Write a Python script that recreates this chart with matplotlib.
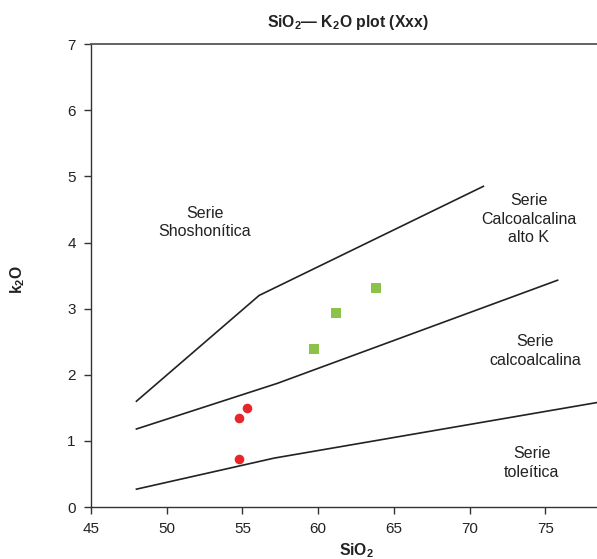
import numpy as np
from matplotlib import pyplot as plt

plt.rcParams["font.family"] = ["Liberation Sans", "DejaVu Sans"]
plt.rcParams["mathtext.fontset"] = "custom"
plt.rcParams["mathtext.rm"] = "Liberation Sans"
plt.rcParams["mathtext.bf"] = "Liberation Sans:bold"

# boundary lines (SiO2, K2O)
shosho_x = [48.0, 56.1, 70.9]
shosho_y = [1.60, 3.20, 4.85]
highk_x = [48.0, 57.3, 75.8]
highk_y = [1.18, 1.87, 3.43]
thol_x = [48.0, 57.1, 78.4]
thol_y = [0.27, 0.74, 1.58]

# samples
sq_x = [59.7, 61.2, 63.8]
sq_y = [2.39, 2.93, 3.31]
ci_x = [55.3, 54.8, 54.8]
ci_y = [1.50, 1.34, 0.72]

fig = plt.figure(figsize=(5.97, 5.59), dpi=100)
ax = fig.add_axes([0.1524, 0.093, 0.8476, 0.828])

for lx, ly in [(shosho_x, shosho_y), (highk_x, highk_y), (thol_x, thol_y)]:
    ax.plot(lx, ly, color="#222222", lw=1.2, clip_on=False)

ax.scatter(sq_x, sq_y, marker="s", s=48, color="#8bc34a", zorder=3, linewidths=0)
ax.scatter(ci_x, ci_y, marker="o", s=48, color="#e8262a", zorder=3, linewidths=0)

# region labels
fs = 11.5
kw = dict(ha="center", va="center", fontsize=fs, color="#222222", linespacing=1.3)
ax.text(52.5, 4.3, "Serie\nShoshonítica", **kw)
ax.text(73.9, 4.35, "Serie\nCalcoalcalina\nalto K", **kw)
ax.text(74.3, 2.36, "Serie\ncalcoalcalina", **kw)
ax.text(74.1, 0.67, "Serie\ntoleítica", **kw)

ax.set_xlim(45, 78.4)
ax.set_ylim(0, 7)
ax.set_xticks(np.arange(45, 80, 5))
ax.set_yticks(np.arange(0, 8, 1))
ax.tick_params(direction="out", length=5, width=1, labelsize=11, pad=6,
               color="#333333", labelcolor="#222222")
ax.spines["right"].set_visible(False)
ax.spines["top"].set_color("#555555")
ax.spines["top"].set_linewidth(1.3)
ax.spines["left"].set_color("#333333")
ax.spines["bottom"].set_color("#333333")
ax.spines["left"].set_linewidth(1)
ax.spines["bottom"].set_linewidth(1)

fig.text(0.583, 0.96, r"SiO$_\mathbf{2}$— K$_\mathbf{2}$O plot (Xxx)", ha="center", va="center",
         fontsize=11.3, fontweight="bold", color="#222222")
fig.text(0.597, 0.015, r"SiO$_\mathbf{2}$", ha="center", va="center", fontsize=11.3,
         fontweight="bold", color="#222222")
fig.text(0.03, 0.50, r"k$_\mathbf{2}$O", ha="center", va="center", rotation=90,
         fontsize=11.3, fontweight="bold", color="#222222")

plt.savefig("out.png", dpi=100)
